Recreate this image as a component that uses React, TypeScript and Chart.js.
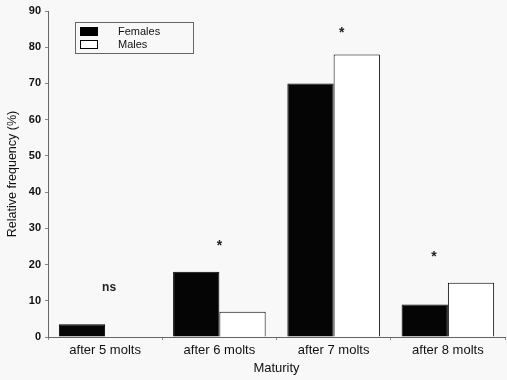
import React, { useEffect, useRef } from "react";
import { Chart, registerables } from "chart.js";

Chart.register(...registerables);

const categories = ["after 5 molts", "after 6 molts", "after 7 molts", "after 8 molts"];
const females = [3.5, 18, 70, 9];
const males = [0, 7, 78, 15];
const annotationLabels = ["ns", "*", "*", "*"];
const annotationValues = [13.5, 25, 84, 22];
const yTicks = [0, 10, 20, 30, 40, 50, 60, 70, 80, 90];

const FONT = "'Liberation Sans', Arial, sans-serif";

const annotationPlugin = {
  id: "annots",
  afterDatasetsDraw(chart: any) {
    const { ctx, scales } = chart;
    const dx = [4, 0, 8, -14];
    ctx.save();
    ctx.fillStyle = "#222";
    ctx.textAlign = "center";
    ctx.textBaseline = "middle";
    annotationLabels.forEach((lab, i) => {
      const x = scales.x.getPixelForValue(i) + dx[i];
      const y = scales.y.getPixelForValue(annotationValues[i]);
      ctx.font = lab === "ns" ? `bold 12px ${FONT}` : `bold 14px ${FONT}`;
      ctx.fillText(lab, x, y);
    });
    ctx.restore();
  },
};

const legendPlugin = {
  id: "boxLegend",
  afterDraw(chart: any) {
    const { ctx, chartArea } = chart;
    const x0 = chartArea.left + 27;
    const y0 = chartArea.top + 11;
    ctx.save();
    ctx.fillStyle = "#f8f8f8";
    ctx.fillRect(x0, y0, 118, 31);
    ctx.strokeStyle = "#666";
    ctx.lineWidth = 1;
    ctx.strokeRect(x0 + 0.5, y0 + 0.5, 118, 31);
    ctx.fillStyle = "#000";
    ctx.fillRect(x0 + 5, y0 + 5, 18, 9);
    ctx.fillStyle = "#fff";
    ctx.fillRect(x0 + 5, y0 + 18, 18, 9);
    ctx.strokeStyle = "#000";
    ctx.strokeRect(x0 + 5.5, y0 + 18.5, 17, 8);
    ctx.fillStyle = "#111";
    ctx.font = `11px ${FONT}`;
    ctx.textBaseline = "middle";
    ctx.textAlign = "left";
    ctx.fillText("Females", x0 + 43, y0 + 10);
    ctx.fillText("Males", x0 + 43, y0 + 23);
    ctx.restore();
  },
};

const bgPlugin = {
  id: "bg",
  beforeDraw(chart: any) {
    const { ctx, width, height } = chart;
    ctx.save();
    ctx.fillStyle = "#f8f8f8";
    ctx.fillRect(0, 0, width, height);
    ctx.restore();
  },
};

export default function App() {
  const ref = useRef<HTMLCanvasElement>(null);
  useEffect(() => {
    document.body.style.margin = "0";
    const chart = new Chart(ref.current as HTMLCanvasElement, {
      type: "bar",
      data: {
        labels: categories,
        datasets: [
          {
            label: "Females",
            data: females,
            backgroundColor: "#050505",
            borderColor: "#000",
            borderWidth: 1,
          },
          {
            label: "Males",
            data: males,
            backgroundColor: "#ffffff",
            borderColor: "#000",
            borderWidth: 1,
          },
        ],
      },
      options: {
        animation: false,
        responsive: false,
        devicePixelRatio: 1,
        layout: { padding: { top: 11, right: 2, left: 0, bottom: 0 } },
        datasets: { bar: { categoryPercentage: 0.81, barPercentage: 1 } },
        plugins: { legend: { display: false }, tooltip: { enabled: false } },
        scales: {
          x: {
            grid: { display: true, drawOnChartArea: false, tickLength: 3, color: "#888", offset: true },
            border: { display: true, color: "#666" },
            ticks: { color: "#111", font: { family: FONT, size: 13 }, padding: 3 },
            title: { display: true, text: "Maturity", color: "#111", font: { family: FONT, size: 13 }, padding: { top: 1 } },
            afterFit(scale: any) { scale.height = 43; },
          },
          y: {
            min: 0,
            max: 90,
            afterBuildTicks(scale: any) { scale.ticks = yTicks.map((v) => ({ value: v })); },
            grid: { display: true, drawOnChartArea: false, tickLength: 3, color: "#888" },
            border: { display: true, color: "#666" },
            ticks: { color: "#111", font: { family: FONT, size: 11, weight: "bold" }, padding: 4 },
            title: { display: true, text: "Relative frequency (%)", color: "#111", font: { family: FONT, size: 12.5 }, padding: { top: 5, bottom: 0 } },
            afterFit(scale: any) { scale.width = 48; },
          },
        },
      },
      plugins: [bgPlugin, annotationPlugin, legendPlugin],
    } as any);
    return () => chart.destroy();
  }, []);
  return (
    <div style={{ width: 507, height: 380 }}>
      <canvas ref={ref} width={507} height={380} style={{ display: "block" }} />
    </div>
  );
}
